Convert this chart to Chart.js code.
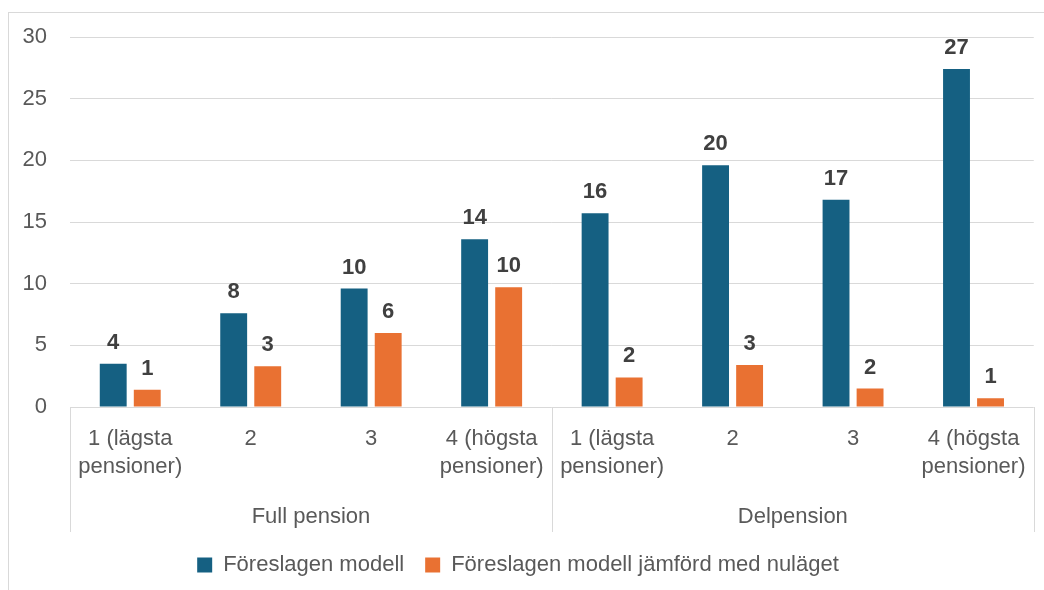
<!DOCTYPE html>
<html>
	<head>
		<meta charset="UTF-8" />
		<title>Chart</title>
		<style type="text/css">
body { margin: 0; background: #fff; }
.chartBox { position: relative; width: 1044px; height: 590px; }
.frame { position: absolute; left: 8px; top: 12px; width: 1100px; height: 700px; border-left: 1px solid #d9d9d9; border-top: 1px solid #d9d9d9; }
		</style>
	</head>
	<body>
		<script src="https://cdn.jsdelivr.net/npm/chart.js@4/dist/chart.umd.min.js"></script>
		<div class="chartBox">
			<div class="frame"></div>
			<canvas id="myChart" width="1044" height="590"></canvas>
		</div>
		<script charset="utf-8">
			const categories = [
				['1 (lägsta', 'pensioner)'], '2', '3', ['4 (högsta', 'pensioner)'],
				['1 (lägsta', 'pensioner)'], '2', '3', ['4 (högsta', 'pensioner)']
			];
			const groups = ['Full pension', 'Delpension'];
			const proposed = [3.5, 7.6, 9.6, 13.6, 15.7, 19.6, 16.8, 27.4];
			const vsCurrent = [1.4, 3.3, 6.0, 9.7, 2.4, 3.4, 1.5, 0.7];
			const seriesNames = ['Föreslagen modell', 'Föreslagen modell jämförd med nuläget'];
			const yTicks = [0, 5, 10, 15, 20, 25, 30];

			const font = 'Liberation Sans, Arial, sans-serif';
			Chart.defaults.font.family = font;
			Chart.defaults.color = '#595959';

			// value labels above each bar
			const barLabels = {
				id: 'barLabels',
				afterDatasetsDraw(chart) {
					const ctx = chart.ctx;
					ctx.save();
					ctx.font = 'bold 22px ' + font;
					ctx.fillStyle = '#404040';
					ctx.textAlign = 'center';
					ctx.textBaseline = 'alphabetic';
					chart.data.datasets.forEach((ds, i) => {
						chart.getDatasetMeta(i).data.forEach((bar, j) => {
							ctx.fillText(Math.round(ds.data[j]), bar.x, bar.y - 15);
						});
					});
					ctx.restore();
				}
			};

			// vertical separators of the grouped category axis
			const groupLines = {
				id: 'groupLines',
				afterDraw(chart) {
					const x = chart.scales.x;
					const g = chart.scales.x2;
					const a = chart.chartArea;
					const mid = (x.getPixelForValue(3) + x.getPixelForValue(4)) / 2;
					const ctx = chart.ctx;
					ctx.save();
					ctx.strokeStyle = '#d9d9d9';
					ctx.lineWidth = 1;
					[a.left, mid, a.right].forEach(px => {
						px = Math.round(px) + 0.5;
						ctx.beginPath();
						ctx.moveTo(px, a.bottom);
						ctx.lineTo(px, g.bottom - 1);
						ctx.stroke();
					});
					ctx.restore();
				}
			};

			const data = {
				labels: categories,
				datasets: [{
					label: seriesNames[0],
					data: proposed,
					backgroundColor: '#156082',
					barPercentage: 0.79,
					categoryPercentage: 0.565
				}, {
					label: seriesNames[1],
					data: vsCurrent,
					backgroundColor: '#E97132',
					barPercentage: 0.79,
					categoryPercentage: 0.565
				}]
			};

			const config = {
				type: 'bar',
				data,
				plugins: [barLabels, groupLines],
				options: {
					responsive: false,
					animation: false,
					layout: { padding: { top: 37, right: 8, bottom: 4, left: 0 } },
					plugins: {
						tooltip: { enabled: false },
						legend: {
							position: 'bottom',
							labels: {
								boxWidth: 15,
								boxHeight: 15,
								padding: 21,
								color: '#595959',
								font: { size: 22 }
							}
						}
					},
					scales: {
						x: {
							grid: { display: false, drawTicks: false },
							border: { display: false },
							ticks: {
								padding: 18,
								maxRotation: 0,
								autoSkip: false,
								font: { size: 22, lineHeight: 1.27 }
							},
							afterFit: s => { s.height = 84; }
						},
						x2: {
							type: 'category',
							position: 'bottom',
							labels: groups,
							offset: true,
							grid: { display: false, drawTicks: false },
							border: { display: false },
							ticks: { padding: 12, font: { size: 22, lineHeight: 1.27 } },
							afterFit: s => { s.height = 42; }
						},
						y: {
							min: 0,
							max: 30,
							afterBuildTicks: s => { s.ticks = yTicks.map(v => ({ value: v })); },
							grid: { color: '#d9d9d9', drawTicks: false },
							border: { display: false },
							ticks: { padding: 23, font: { size: 22 } },
							afterFit: s => { s.width = 70; }
						}
					}
				}
			};

			var ctx = document.getElementById('myChart').getContext('2d');
			var myChart = new Chart(ctx, config);
		</script>
	</body>
</html>
